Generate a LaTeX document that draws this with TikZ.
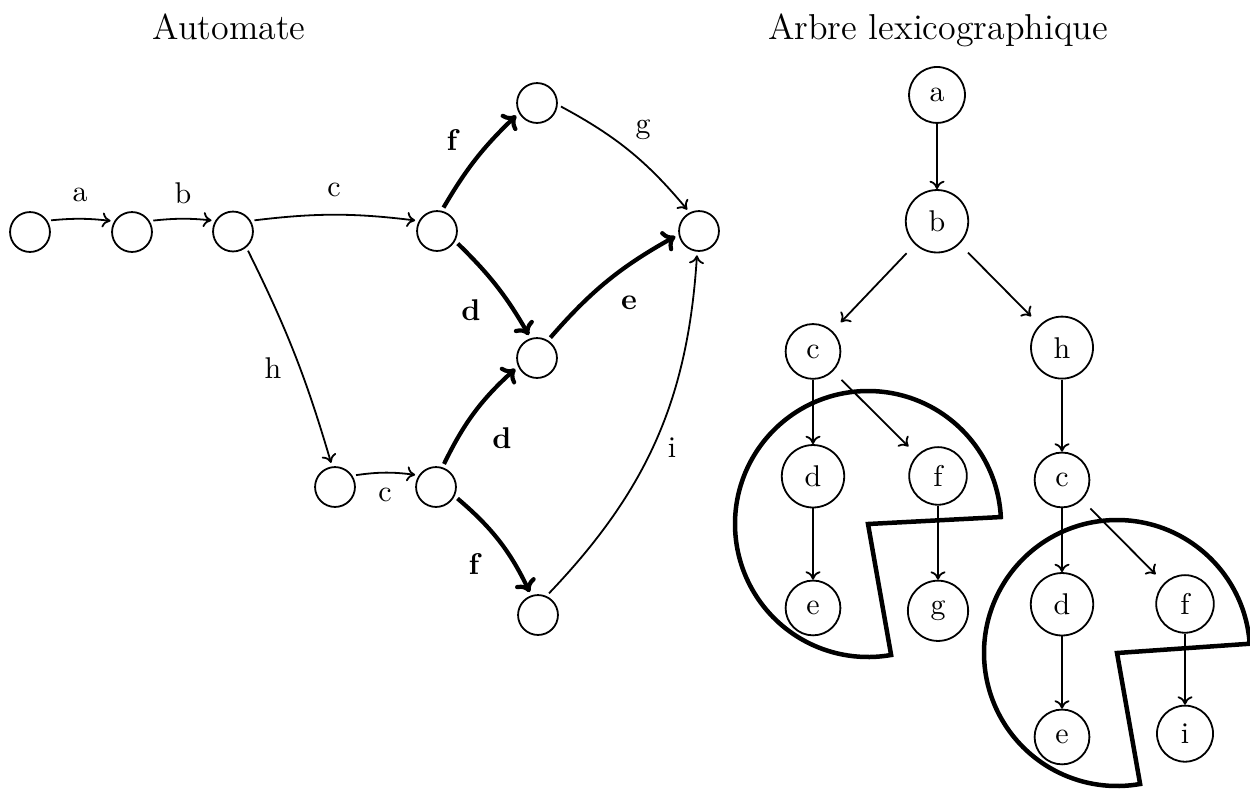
\documentclass[tikz,border=0pt]{standalone}
\usetikzlibrary{arrows.meta}
\begin{document}
\begin{tikzpicture}[x=0.33333pt,y=0.33333pt,
  state/.style={circle,draw,line width=0.6pt,minimum size=13.3pt,inner sep=0pt},
  tnode/.style={circle,draw,line width=0.6pt,inner sep=4.2pt,anchor=base},
  thinedge/.style={line width=0.6pt,-{To[length=2.8pt,width=5pt]},shorten <=1.2pt,shorten >=1.2pt},
  thickedge/.style={line width=1.4pt,-{To[length=4pt,width=7.5pt]},shorten <=1.2pt,shorten >=1.2pt},
  lbl/.style={inner sep=0pt},
  blbl/.style={inner sep=0pt,font=\bfseries},
  tedge/.style={line width=0.6pt,-{To[length=2.8pt,width=5pt]}},
  diag/.style={tedge,shorten <=4pt,shorten >=4pt},
  pac/.style={line width=1.5pt,line join=miter},
  titletext/.style={font=\large,anchor=base}
]
\useasboundingbox (0,0) rectangle (1250,790);

% titles
\node[titletext] (t1) at (229,751) {Automate};
\node[titletext] (t2) at (938,751) {Arbre lexicographique};

% automaton states
\node[state] (n1) at (30,558) {};
\node[state] (n2) at (132,558) {};
\node[state] (n3) at (233,558.5) {};
\node[state] (n4) at (437,559) {};
\node[state] (n5) at (537,687) {};
\node[state] (n6) at (699,559) {};
\node[state] (n7) at (537,432) {};
\node[state] (n8) at (335,303) {};
\node[state] (n9) at (436,303) {};
\node[state] (n10) at (538,175) {};

% automaton transitions
\draw[thinedge] (n1.33) to[bend left=6] (n2.149);
\draw[thinedge] (n2.32) to[bend left=6] (n3.149);
\draw[thinedge] (n3.31) to[bend left=7] (n4.151);
\draw[thinedge] (n3.310) to[bend left=5] (n8.98);
\draw[thinedge] (n8.33) to[bend left=8] (n9.146);
\draw[thickedge] (n4.77) to[bend left=8] (n5.209);
\draw[thickedge] (n4.331) to[bend left=8] (n7.108);
\draw[thickedge] (n7.58) to[bend left=10] (n6.190);
\draw[thinedge] (n5.355) to[bend left=11] (n6.117);
\draw[thickedge] (n9.72) to[bend left=11] (n7.204);
\draw[thickedge] (n9.334) to[bend left=12] (n10.109);
\draw[thinedge] (n10.66) to[bend right=20] (n6.265);

% transition labels
\node[lbl] (la) at (80,595) {a};
\node[lbl] (lb) at (183,597) {b};
\node[lbl] (lc) at (334,600) {c};
\node[lbl] (lh) at (273,422) {h};
\node[lbl] (lc2) at (385,295) {c};
\node[blbl] (lf) at (452,650) {f};
\node[lbl] (lg) at (643,660) {g};
\node[blbl] (ld) at (471,480) {d};
\node[blbl] (le) at (629,487) {e};
\node[blbl] (ld2) at (502,352) {d};
\node[blbl] (lf2) at (474,226) {f};
\node[lbl] (li) at (672,342) {i};

% lexicographic tree
\node[tnode] (ta) at (937,688.5) {a};
\node[tnode] (tb) at (937,558.5) {b};
\node[tnode] (tc) at (813,432) {c};
\node[tnode] (th) at (1062,432) {h};
\node[tnode] (td) at (813,303.5) {d};
\node[tnode] (tf) at (938,303.5) {f};
\node[tnode] (te) at (813,175.5) {e};
\node[tnode] (tg) at (938,175.5) {g};
\node[tnode] (tc2) at (1062,303.5) {c};
\node[tnode] (td2) at (1062,175.5) {d};
\node[tnode] (tf2) at (1185,175.5) {f};
\node[tnode] (te2) at (1062,46.5) {e};
\node[tnode] (ti2) at (1185,46.5) {i};

\draw[tedge] (ta) -- (tb);
\draw[diag] (tb) -- (tc);
\draw[diag] (tb) -- (th);
\draw[tedge] (tc) -- (td);
\draw[diag] (tc) -- (tf);
\draw[tedge] (td) -- (te);
\draw[tedge] (tf) -- (tg);
\draw[tedge] (th) -- (tc2);
\draw[tedge] (tc2) -- (td2);
\draw[diag] (tc2) -- (tf2);
\draw[tedge] (td2) -- (te2);
\draw[tedge] (tf2) -- (ti2);

% pac-man outlines
\coordinate (pc1) at (868,266);
\coordinate (pc2) at (1117,137);
\draw[pac] (pc1) -- ++(3:133) arc[start angle=3,end angle=280,radius=133] -- cycle;
\draw[pac] (pc2) -- ++(4:133) arc[start angle=4,end angle=280,radius=133] -- cycle;
\end{tikzpicture}
\end{document}
